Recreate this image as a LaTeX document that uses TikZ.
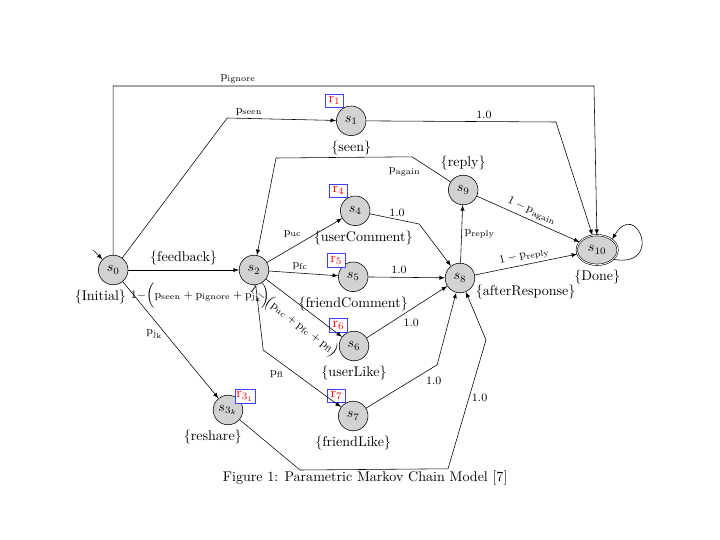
\documentclass[tikz,border=0pt]{standalone}
\usepackage{tikz}
\usetikzlibrary{arrows,calc,shapes.geometric}

\newcommand{\pp}[1]{\mathrm{p}_{\mathrm{#1}}}
\newcommand{\rw}[1]{$\mathrm{r}_{#1}$}

\begin{document}
\begin{tikzpicture}[>=latex,
	state/.style={circle,draw,fill=gray!35,minimum size=0.74cm,inner sep=0pt},
	rbox/.style={draw=blue!75,fill=white,text=red,inner sep=1pt,minimum width=0.44cm,minimum height=0.34cm},
	elbl/.style={font=\footnotesize,inner sep=2pt}]
	\useasboundingbox (0,0) rectangle (18,13.5);
	\node (s0) at (2.83,6.75)[state,label={[xshift=-0.32cm]below:{$\{$Initial$\}$}}] {$s_0$};
	\node (s1) at (8.78,10.48)[state,label=below:{$\{$seen$\}$},label={[rbox]120:\rw{1}}] {$s_1$};
	\node (s2) at (6.35,6.75)[state] {$s_2$};
	\node (s3) at (5.70,3.25)[state,label={[xshift=-0.38cm]below:{$\{$reshare$\}$}},label={[rbox,label distance=-4pt]45:\rw{3_1}}] {$s_{3_k}$};
	\node (s4) at (8.88,8.23)[state,label={[xshift=0.2cm]below:{$\{$userComment$\}$}},label={[rbox]120:\rw{4}}] {$s_4$};
	\node (s5) at (8.83,6.58)[state,label=below:{$\{$friendComment$\}$},label={[rbox,label distance=-2pt]130:\rw{5}}] {$s_5$};
	\node (s6) at (8.85,4.85)[state,label=below:{$\{$userLike$\}$},label={[rbox]115:\rw{6}}] {$s_6$};
	\node (s7) at (8.83,3.10)[state,label=below:{$\{$friendLike$\}$},label={[rbox]120:\rw{7}}] {$s_7$};
	\node (s8) at (11.50,6.55)[state,label={[anchor=north west,inner sep=1pt]-20:{$\{$afterResponse$\}$}}] {$s_8$};
	\node (s9) at (11.58,8.75)[state,label=above:{$\{$reply$\}$}] {$s_9$};
	\node (s10) at (14.93,7.25)[ellipse,draw,double,fill=gray!35,minimum width=1.02cm,minimum height=0.74cm,inner sep=0pt,label=below:{$\{$Done$\}$}] {$s_{10}$};
	\coordinate (init) at (2.33,7.25);
	\coordinate (ign) at (14.85,11.35);
	\coordinate (b1) at (5.68,10.55);
	\coordinate (b2) at (13.9,10.45);
	\coordinate (b3) at (6.58,4.75);
	\coordinate (b4) at (10.48,7.9);
	\coordinate (b5) at (10.93,4.38);
	\coordinate (b6) at (7.5,1.75);
	\coordinate (b7) at (11.2,1.78);
	\coordinate (b8) at (12.15,5.0);
	\coordinate (b9) at (10.3,9.58);
	\coordinate (b10) at (6.9,9.55);
	\node (cap) at (9.13,1.55) {Figure 1: Parametric Markov Chain Model [7]};
	\draw[->] (init)--(s0);
	\draw[->] (s0) |- node[elbl,above,pos=0.63] {$\pp{ignore}$} (ign) -- (s10);
	\draw[->] (s0)--(b1)-- node[elbl,above,pos=0.2] {$\pp{seen}$} (s1);
	\draw[->] (s1)--(b2) node[elbl,above,pos=0.62] {1.0} --(s10);
	\draw[->] (s0)-- node[above] {$\{$feedback$\}$} node[elbl,anchor=north,pos=0.5,xshift=0.42cm,yshift=-0.22cm] {$1{-}\Big(\pp{seen}+\pp{ignore}+\mathrm{p}_{\mathrm{j_k}}\Big)$} (s2);
	\draw[->] (s0)-- node[elbl,left,pos=0.45] {$\mathrm{p}_{\mathrm{j_k}}$} (s3);
	\draw[->] (s2)-- node[elbl,above left] {$\pp{uc}$} (s4);
	\draw[->] (s2)-- node[elbl,above,pos=0.45] {$\pp{fc}$} (s5);
	\draw[->] (s2)-- node[elbl,below=3pt,sloped,pos=0.5] {$1-\big(\pp{uc}+\pp{fc}+\pp{fl}\big)$} (s6);
	\draw[->] (s2)--(b3)-- node[elbl,below left,pos=0.3] {$\pp{fl}$} (s7);
	\draw[->] (s4)-- node[elbl,above,pos=0.55] {1.0} (b4)--(s8);
	\draw[->] (s5)-- node[elbl,above,pos=0.4] {1.0} (s8);
	\draw[->] (s6)-- node[elbl,below right,pos=0.42] {1.0} (s8);
	\draw[->] (s7)-- node[elbl,below right,pos=0.8] {1.0} (b5)--(s8);
	\draw[->] (s3)--(b6)--(b7)-- node[elbl,right,pos=0.55] {1.0} (b8)--(s8);
	\draw[->] (s8)-- node[elbl,right] {$\pp{reply}$} (s9);
	\draw[->] (s9)-- node[elbl,below left,pos=0.7] {$\pp{again}$} (b9)--(b10)--(s2);
	\draw[->] (s9)-- node[elbl,above,sloped] {$1-\pp{again}$} (s10);
	\draw[->] (s8)-- node[elbl,above,sloped] {$1-\pp{reply}$} (s10);
	\draw[->] (s10.-30) .. controls +(-10:1.3) and +(60:1.2) .. (s10.35);
\end{tikzpicture}
\end{document}
